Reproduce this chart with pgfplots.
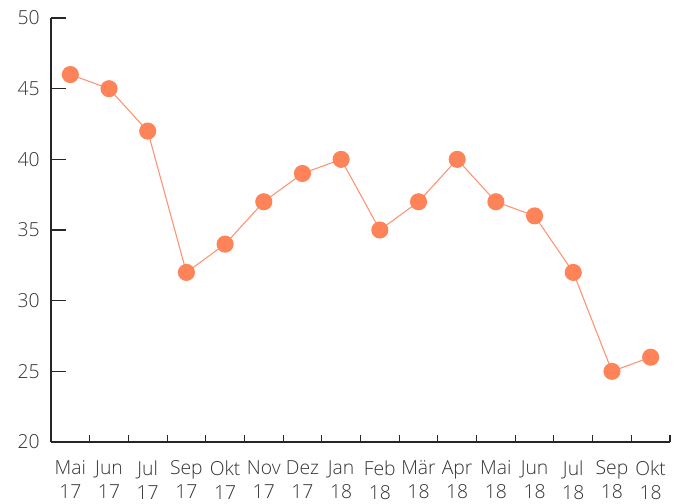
\documentclass[border=0pt]{standalone}
\usepackage{fontspec}
\setmainfont{Open Sans}[UprightFont={* Light}]
\usepackage{pgfplots}
\pgfplotsset{compat=1.18}
\definecolor{pt}{HTML}{FF8358}
\definecolor{ln}{HTML}{FF9270}
\definecolor{txt}{HTML}{333333}
\begin{document}
\begin{tikzpicture}
\begin{axis}[
  scale only axis,
  width=464.25pt,height=318pt,
  xmin=-0.5,xmax=15.5,ymin=20,ymax=50,
  axis lines*=left,
  axis line style={black!85,line width=0.8pt},
  ytick={20,25,...,50},
  xtick={0,...,15},
  xticklabels={Mai\\17,Jun\\17,Jul\\17,Sep\\17,Okt\\17,Nov\\17,Dez\\17,Jan\\18,Feb\\18,Mär\\18,Apr\\18,Mai\\18,Jun\\18,Jul\\18,Sep\\18,Okt\\18},
  xticklabel style={align=center,font=\fontsize{14.5}{18}\selectfont,text=txt,inner ysep=0pt,yshift=-14pt},
  yticklabel style={font=\fontsize{14.5}{15}\selectfont,text=txt,xshift=-5pt},
  minor xtick={0.5,1.5,...,15.5},
  tick align=inside,
  major tick length=11pt,
  minor tick length=5.5pt,
  x tick style={draw=none},
  minor x tick style={draw=black!85,line width=0.8pt},
  y tick style={black!85,line width=0.8pt},
  /pgf/number format/assume math mode=true,
  clip=false,
]
\addplot[color=ln,line width=0.8pt,mark=*,mark size=6pt,mark options={fill=pt,draw=pt}] coordinates {
  (0,46) (1,45) (2,42) (3,32) (4,34) (5,37) (6,39) (7,40)
  (8,35) (9,37) (10,40) (11,37) (12,36) (13,32) (14,25) (15,26)
};
\path (rel axis cs:-0.0824,-0.1439) rectangle (rel axis cs:1.0178,1.0425);
\end{axis}
\end{tikzpicture}
\end{document}
